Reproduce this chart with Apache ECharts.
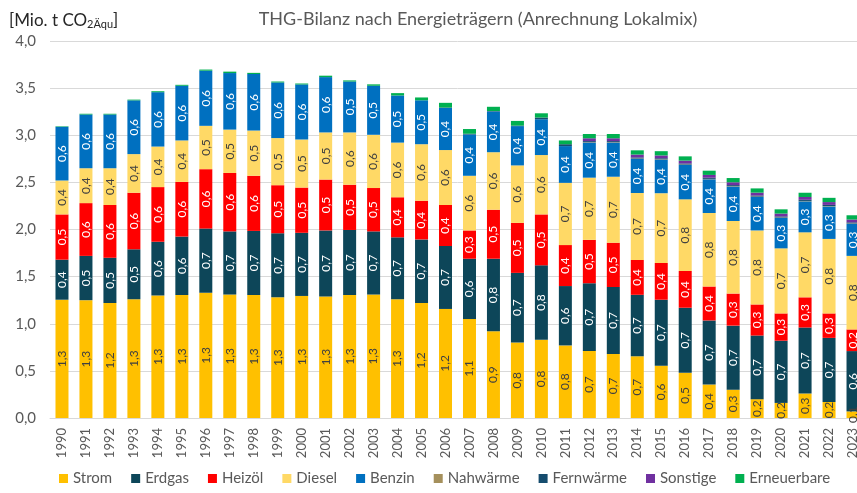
<!DOCTYPE html>
<html>
<head>
<meta charset="utf-8">
<script src="https://cdn.jsdelivr.net/npm/echarts@6/dist/echarts.min.js"></script>
<style>
  html, body { margin: 0; padding: 0; background: #fff; overflow: hidden; }
  #main { width: 880px; height: 493px; }
</style>
</head>
<body>
<div id="main"></div>
<script>
// Jahre
var years = ['1990','1991','1992','1993','1994','1995','1996','1997','1998','1999',
  '2000','2001','2002','2003','2004','2005','2006','2007','2008','2009',
  '2010','2011','2012','2013','2014','2015','2016','2017','2018','2019',
  '2020','2021','2022','2023'];

// Werte in Mio. t CO2-Äquivalent
var strom = [1.255,1.25,1.22,1.26,1.30,1.305,1.33,1.31,1.305,1.28,
  1.295,1.29,1.305,1.31,1.26,1.22,1.157,1.05,0.92,0.80,
  0.83,0.77,0.71,0.68,0.655,0.555,0.48,0.355,0.30,0.20,
  0.16,0.26,0.17,0.07];
var erdgas = [0.425,0.47,0.48,0.53,0.57,0.62,0.68,0.67,0.68,0.68,
  0.67,0.70,0.69,0.67,0.657,0.675,0.668,0.64,0.77,0.74,
  0.79,0.63,0.72,0.71,0.652,0.70,0.69,0.68,0.68,0.675,
  0.66,0.70,0.68,0.64];
var heizoel = [0.48,0.56,0.56,0.60,0.58,0.58,0.63,0.62,0.585,0.51,
  0.48,0.54,0.48,0.46,0.425,0.41,0.435,0.30,0.52,0.53,
  0.54,0.435,0.46,0.47,0.37,0.39,0.39,0.36,0.34,0.33,
  0.29,0.32,0.26,0.23];
var diesel = [0.36,0.37,0.39,0.41,0.43,0.44,0.46,0.46,0.48,0.50,
  0.51,0.50,0.555,0.565,0.58,0.60,0.583,0.58,0.61,0.61,
  0.63,0.66,0.66,0.70,0.71,0.74,0.76,0.78,0.77,0.785,
  0.69,0.69,0.79,0.78];
var benzin = [0.57,0.57,0.57,0.57,0.577,0.58,0.585,0.60,0.60,0.59,
  0.584,0.587,0.54,0.52,0.50,0.466,0.446,0.438,0.432,0.417,
  0.38,0.39,0.372,0.362,0.362,0.355,0.365,0.358,0.365,0.355,
  0.323,0.329,0.345,0.34];
var nahwaerme = [0,0,0,0,0,0,0,0,0,0,
  0,0,0,0,0,0,0,0,0,0,
  0,0,0.004,0.004,0.004,0.004,0.004,0.004,0.004,0.004,
  0.004,0.004,0.004,0.004];
var fernwaerme = [0,0,0,0,0,0,0,0,0,0,
  0,0,0,0,0,0,0.005,0.008,0.005,0.005,
  0.018,0.02,0.012,0.012,0.012,0.012,0.012,0.012,0.012,0.012,
  0.012,0.012,0.012,0.012];
var sonstige = [0,0,0,0,0,0,0,0,0,0,
  0,0,0,0,0,0,0,0,0,0,
  0,0,0.03,0.03,0.03,0.03,0.03,0.03,0.03,0.03,
  0.03,0.03,0.03,0.03];
var erneuerbare = [0.005,0.008,0.008,0.008,0.01,0.01,0.012,0.015,0.012,0.01,
  0.01,0.015,0.012,0.015,0.025,0.03,0.05,0.05,0.045,0.05,
  0.045,0.04,0.045,0.045,0.045,0.045,0.045,0.045,0.045,0.045,
  0.045,0.045,0.045,0.045];

var yTicks = [0, 0.5, 1, 1.5, 2, 2.5, 3, 3.5, 4];

var FONT = 'Lato, "Open Sans", sans-serif';
var GREY = '#595959';

function komma(v) { return v.toFixed(1).replace('.', ','); }

function serie(name, data, color, labelColor) {
  var s = {
    name: name,
    type: 'bar',
    stack: 'thg',
    barWidth: 13,
    data: data,
    itemStyle: { color: color },
    emphasis: { disabled: true }
  };
  if (labelColor) {
    s.label = {
      show: true,
      position: 'inside',
      rotate: 90,
      color: labelColor,
      fontFamily: FONT,
      fontSize: 12,
      formatter: function (p) { return komma(p.value); }
    };
  }
  return s;
}

// Zeichenfläche etwas breiter als das Fenster, damit 2023 am Rand abgeschnitten wird
var mychart = echarts.init(document.getElementById('main'));

var option = {
  animation: false,
  textStyle: { fontFamily: FONT },
  title: [{
    text: 'THG-Bilanz nach Energieträgern (Anrechnung Lokalmix)',
    left: 473,
    top: 5,
    textAlign: 'center',
    textStyle: { fontFamily: FONT, fontSize: 18, fontWeight: 'normal', color: GREY }
  }, {
    text: '[Mio. t CO{sub|2Äqu}]',
    left: 4,
    top: 6,
    textStyle: {
      fontFamily: FONT, fontSize: 17, fontWeight: 'normal', color: '#262626',
      rich: {
        sub: { fontFamily: FONT, fontSize: 11, color: '#262626', verticalAlign: 'bottom', padding: [8, 0, 0, 0] }
      }
    }
  }],
  legend: {
    bottom: 2,
    left: 54,
    itemWidth: 9,
    itemHeight: 9,
    itemGap: 19,
    icon: 'rect',
    textStyle: { fontFamily: FONT, fontSize: 15, color: GREY },
    data: ['Strom','Erdgas','Heizöl','Diesel','Benzin','Nahwärme','Fernwärme','Sonstige','Erneuerbare']
  },
  grid: { left: 50, right: 15, top: 41, bottom: 75 },
  xAxis: {
    type: 'category',
    data: years,
    axisTick: { show: false },
    axisLine: { lineStyle: { color: '#D9D9D9', width: 1 } },
    axisLabel: { rotate: 90, interval: 0, margin: 10, color: GREY, fontFamily: FONT, fontSize: 13 }
  },
  yAxis: {
    type: 'value',
    min: yTicks[0],
    max: yTicks[yTicks.length - 1],
    interval: 0.5,
    axisLine: { show: false },
    axisTick: { show: false },
    splitLine: { lineStyle: { color: '#D9D9D9' } },
    axisLabel: { margin: 14, color: GREY, fontFamily: FONT, fontSize: 15, formatter: komma }
  },
  series: [
    serie('Strom', strom, '#FFC000', '#404040'),
    serie('Erdgas', erdgas, '#0D4659', '#ffffff'),
    serie('Heizöl', heizoel, '#FF0000', '#ffffff'),
    serie('Diesel', diesel, '#FFD966', '#404040'),
    serie('Benzin', benzin, '#0070C0', '#ffffff'),
    serie('Nahwärme', nahwaerme, '#A5905C'),
    serie('Fernwärme', fernwaerme, '#154C6E'),
    serie('Sonstige', sonstige, '#7030A0'),
    serie('Erneuerbare', erneuerbare, '#00B050')
  ]
};

mychart.setOption(option);
</script>
</body>
</html>
